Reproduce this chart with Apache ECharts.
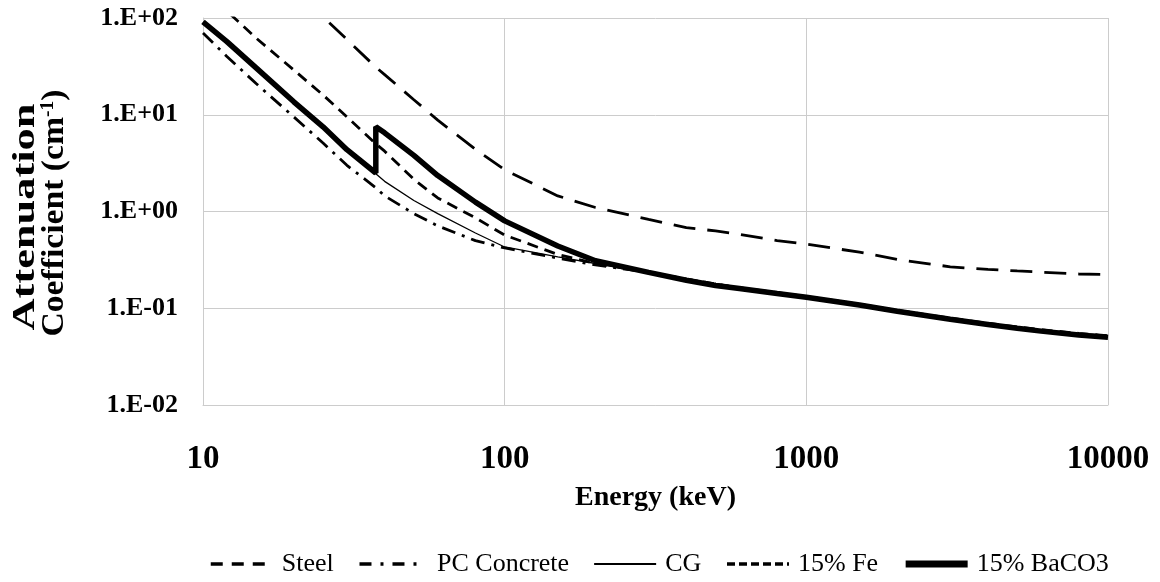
<!DOCTYPE html>
<html><head><meta charset="utf-8">
<script src="https://cdn.jsdelivr.net/npm/echarts@6/dist/echarts.min.js"></script>
<style>html,body{margin:0;padding:0;background:#fff;}#c{width:1160px;height:582px;}</style>
</head><body><div id="c"></div>
<script>
const energy = [10,12,15,20,25,30,37.4,40,50,60,80,100,150,200,300,400,500,600,800,1000,1500,2000,3000,4000,5000,6000,8000,10000];
const energyBa = [10,12,15,20,25,30,37.4,37.4,40,50,60,80,100,150,200,300,400,500,600,800,1000,1500,2000,3000,4000,5000,6000,8000,10000];
const steel = [1340,800,450,202,103,60,31,26,14.3,8.8,4.4,2.7,1.45,1.1,0.83,0.68,0.63,0.58,0.50,0.46,0.38,0.32,0.268,0.252,0.243,0.236,0.226,0.223];
const pcConcrete = [70,40,21,9.5,5.1,3.0,1.76,1.45,0.95,0.71,0.5,0.42,0.33,0.28,0.235,0.2,0.178,0.162,0.143,0.13,0.107,0.093,0.078,0.069,0.063,0.059,0.054,0.052];
const cg = [91,57,30.5,13.6,7.5,4.35,2.45,2.05,1.3,0.95,0.6,0.43,0.34,0.29,0.235,0.2,0.176,0.16,0.142,0.129,0.106,0.092,0.076,0.067,0.061,0.057,0.053,0.051];
const fe15 = [190,118,62,29,16,9.5,5.0,4.2,2.15,1.38,0.86,0.57,0.36,0.29,0.235,0.2,0.178,0.163,0.145,0.132,0.11,0.095,0.079,0.07,0.064,0.06,0.055,0.052];
const baco3 = [91,57,30.5,13.6,7.5,4.35,2.5,7.5,6.5,3.8,2.35,1.25,0.8,0.44,0.31,0.235,0.195,0.172,0.16,0.142,0.13,0.108,0.093,0.077,0.068,0.062,0.058,0.053,0.050];
const seriesNames = ['Steel',' PC Concrete','CG','15% Fe','15% BaCO3'];
const xTicks = ['10','100','1000','10000'];
const yTitle1 = 'Attenuation';
const yTitle2 = ['Coefficient (cm', '-1', ')'];
const xTitle = 'Energy (keV)';

function pairs(xs, ys){ return xs.map((x,i)=>[x, ys[i]]); }
const font = 'Liberation Serif';
const cv = document.createElement('canvas').getContext('2d');
function tw(t, size){ cv.font = 'bold ' + size + 'px "Liberation Serif"'; return cv.measureText(t).width; }
const tSize = 31, supSize = 18;
const w1 = tw(yTitle1, tSize);
const w2 = tw(yTitle2[0] + yTitle2[2], tSize) + tw(yTitle2[1], supSize);

const styles = [
  {width:2.8, type:[22,12], legendWidth:3.5, legendType:[12,9]},
  {width:2.8, type:[14,7,3,7], legendWidth:3.5, legendType:[12,9,3,9]},
  {width:1.3, type:'solid', legendWidth:2, legendType:'solid'},
  {width:2.8, type:[11,7], legendWidth:3.5, legendType:[8,4]},
  {width:5.5, type:'solid', legendWidth:7, legendType:'solid'}
];
const seriesX = [energy, energy, energy, energy, energyBa];
const seriesY = [steel, pcConcrete, cg, fe15, baco3];

const chart = echarts.init(document.getElementById('c'));
const titleRich = {a:{fontFamily:font, fontWeight:'bold', fontSize:tSize, color:'#000'},
  s:{fontFamily:font, fontWeight:'bold', fontSize:supSize, color:'#000', padding:[0,0,13,0]}};
chart.setOption({
  animation:false,
  grid:{left:203, right:52, top:18, bottom:177, outerBoundsMode:'none'},
  graphic:[
    {type:'text', x:26, y:217, rotation:Math.PI/2, scaleX:227/w1, z:10,
      style:{text:'{a|'+yTitle1+'}', rich:titleRich, align:'center', verticalAlign:'middle'}},
    {type:'text', x:55, y:213, rotation:Math.PI/2, scaleX:247/w2, z:10,
      style:{text:'{a|'+yTitle2[0]+'}{s|'+yTitle2[1]+'}{a|'+yTitle2[2]+'}', rich:titleRich, align:'center', verticalAlign:'middle'}}
  ],
  xAxis:{type:'log', logBase:10, min:10, max:10000,
    name:xTitle, nameLocation:'middle', nameGap:79,
    nameTextStyle:{fontFamily:font, fontWeight:'bold', fontSize:28, color:'#000'},
    axisLine:{lineStyle:{color:'#cccccc'}}, axisTick:{show:false},
    splitLine:{show:true, lineStyle:{color:'#cccccc', width:1}},
    axisLabel:{margin:38, fontFamily:font, fontWeight:'bold', fontSize:33, color:'#000',
      formatter:(v)=>xTicks[Math.round(Math.log10(v))-1]}},
  yAxis:{type:'log', logBase:10, min:0.01, max:100,
    axisLine:{show:true, lineStyle:{color:'#cccccc'}}, axisTick:{show:false},
    splitLine:{show:true, lineStyle:{color:'#cccccc', width:1}},
    axisLabel:{margin:25, fontFamily:font, fontWeight:'bold', fontSize:26, color:'#000',
      formatter:(v)=>{const e=Math.round(Math.log10(v)); return '1.E'+(e<0?'-':'+')+String(Math.abs(e)).padStart(2,'0');}}},
  legend:{top:546, left:204, itemWidth:62, itemHeight:14, itemGap:24,
    itemStyle:{opacity:0},
    textStyle:{fontFamily:font, fontSize:26, color:'#000', padding:[0,0,0,4]},
    data:seriesNames.map((n,i)=>({name:n, lineStyle:{color:'#000', width:styles[i].legendWidth, type:styles[i].legendType}}))},
  series:seriesNames.map((n,i)=>({
    name:n, type:'line', data:pairs(seriesX[i], seriesY[i]), symbol:'none', clip:true,
    lineStyle:{color:'#000', width:styles[i].width, type:styles[i].type}, itemStyle:{color:'#000'},
    z: i===4 ? 5 : 3
  }))
});
</script></body></html>
